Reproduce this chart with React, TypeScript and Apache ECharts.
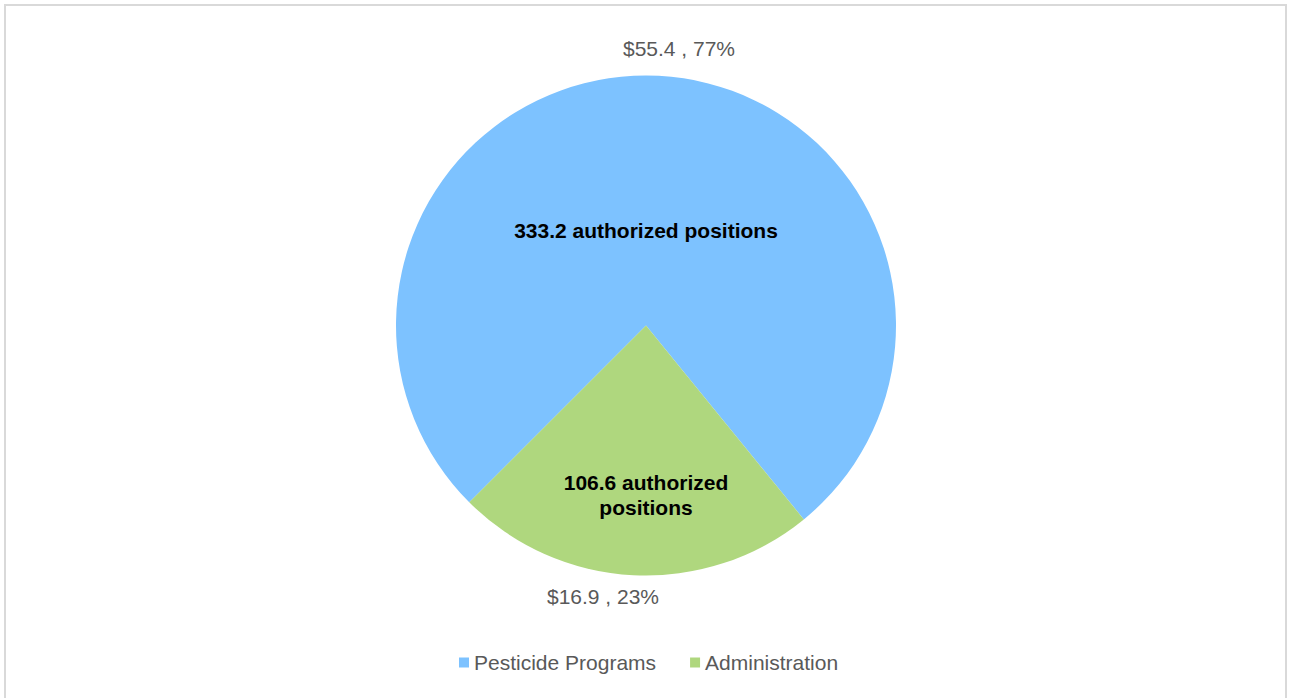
import React, { useEffect, useRef } from "react";
import * as echarts from "echarts";

const categories = ["Pesticide Programs", "Administration"];
const dollars = [55.4, 16.9];
const percents = [77, 23];
const positions = [333.2, 106.6];
const colors = ["#7DC2FF", "#AFD77E"];

const CX = 646;
const CY = 325.5;
const R = 250;

export default function App() {
  const ref = useRef<HTMLDivElement>(null);
  useEffect(() => {
    document.body.style.margin = "0";
    const chart = echarts.init(ref.current!, null, { renderer: "svg" });
    const data = categories.map((name, i) => ({
      name,
      value: dollars[i],
      itemStyle: { color: colors[i] },
    }));
    const insidePos = [
      [CX, 230],
      [CX, 495],
    ];
    const outsidePos = [
      [679, 48],
      [603, 596],
    ];
    chart.setOption({
      animation: false,
      backgroundColor: "#ffffff",
      graphic: [
        {
          type: "rect",
          shape: { x: 5, y: 5, width: 1281, height: 710 },
          style: { fill: "none", stroke: "#d9d9d9", lineWidth: 2 },
          silent: true,
        },
      ],
      legend: {
        data: categories,
        bottom: 20,
        left: 454,
        itemWidth: 10,
        itemHeight: 10,
        itemGap: 34,
        icon: "rect",
        textStyle: {
          fontFamily: "Liberation Sans",
          fontSize: 21,
          color: "#595959",
        },
      },
      series: [
        {
          type: "pie",
          center: [CX, CY],
          radius: [0, R],
          startAngle: 225,
          clockwise: true,
          data,
          silent: true,
          emphasis: { disabled: true },
          labelLine: { show: false },
          label: {
            show: true,
            position: "inside",
            fontFamily: "Liberation Sans",
            fontSize: 21,
            fontWeight: "bold",
            color: "#000000",
            lineHeight: 25,
            align: "center",
            formatter: (p: any) =>
              positions[p.dataIndex] +
              (p.dataIndex === 1 ? " authorized\npositions" : " authorized positions"),
          },
          labelLayout: (p: any) => ({
            x: insidePos[p.dataIndex][0],
            y: insidePos[p.dataIndex][1],
            align: "center",
            verticalAlign: "middle",
          }),
        },
        {
          type: "pie",
          center: [CX, CY],
          radius: [0, R],
          startAngle: 225,
          clockwise: true,
          data: categories.map((name, i) => ({
            name,
            value: dollars[i],
            itemStyle: { color: "rgba(0,0,0,0)" },
          })),
          silent: true,
          emphasis: { disabled: true },
          labelLine: { show: false },
          label: {
            show: true,
            position: "outside",
            fontFamily: "Liberation Sans",
            fontSize: 21,
            color: "#595959",
            formatter: (p: any) =>
              "$" + dollars[p.dataIndex].toFixed(1) + " , " + percents[p.dataIndex] + "%",
          },
          labelLayout: (p: any) => ({
            x: outsidePos[p.dataIndex][0],
            y: outsidePos[p.dataIndex][1],
            align: "center",
            verticalAlign: "middle",
          }),
        },
      ],
    });
    return () => chart.dispose();
  }, []);
  return (
    <div
      ref={ref}
      style={{ position: "fixed", left: 0, top: 0, width: 1292, height: 698 }}
    />
  );
}
